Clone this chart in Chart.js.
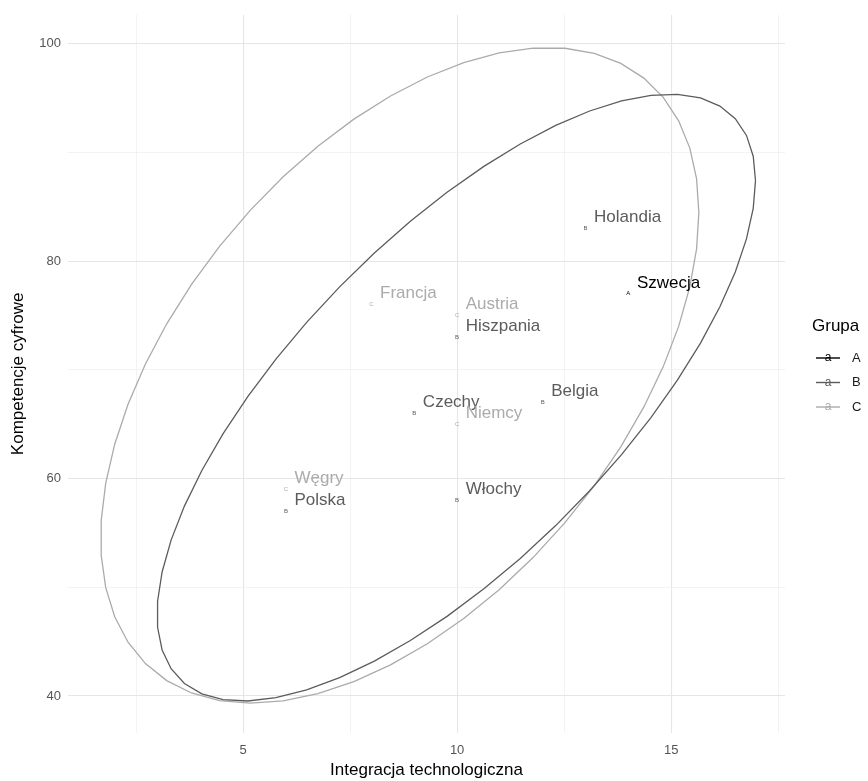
<!DOCTYPE html>
<html>
<head>
<meta charset="utf-8">
<script src="https://cdn.jsdelivr.net/npm/chart.js@4.4.0/dist/chart.umd.min.js"></script>
<style>
  html, body { margin: 0; padding: 0; background: #fff; }
  canvas { display: block; }
</style>
</head>
<body>
<canvas id="chart" width="868" height="781"></canvas>
<script>
// data
const countries = ['Szwecja', 'Holandia', 'Francja', 'Austria', 'Hiszpania', 'Czechy', 'Niemcy', 'Belgia', 'Węgry', 'Polska', 'Włochy'];
const groups = ['A', 'B', 'C', 'C', 'B', 'B', 'C', 'B', 'C', 'B', 'B'];
const integracja = [14, 13, 8, 10, 10, 9, 10, 12, 6, 6, 10];
const kompetencje = [77, 83, 76, 75, 73, 66, 65, 67, 59, 57, 58];

const groupNames = ['A', 'B', 'C'];
const groupColors = ['#000000', '#5c5c5c', '#ababab'];

const xTicks = [2.5, 5, 7.5, 10, 12.5, 15, 17.5];
const xLabels = [5, 10, 15];
const yTicks = [40, 50, 60, 70, 80, 90, 100];
const yLabels = [40, 60, 80, 100];

const FONT = '"Liberation Sans", Arial, sans-serif';

// robust t covariance, same idea as MASS::cov.trob (nu = 5)
function covTrob(pts, nu = 5, maxit = 25, tol = 0.01) {
  const n = pts.length;
  let loc = [pts.reduce((s, q) => s + q[0], 0) / n, pts.reduce((s, q) => s + q[1], 0) / n];
  let w = pts.map(() => 1);
  let X = [];
  for (let iter = 0; iter < maxit; iter++) {
    const w0 = w.slice();
    X = pts.map(q => [q[0] - loc[0], q[1] - loc[1]]);
    const sw = w.reduce((s, v) => s + v, 0);
    let a = 0, b = 0, c = 0;
    X.forEach((d, i) => {
      const f = w[i] / sw;
      a += f * d[0] * d[0]; b += f * d[0] * d[1]; c += f * d[1] * d[1];
    });
    const det = a * c - b * b;
    const Q = X.map(d => (c * d[0] * d[0] - 2 * b * d[0] * d[1] + a * d[1] * d[1]) / det);
    w = Q.map(q => (nu + 2) / (nu + q));
    const sw2 = w.reduce((s, v) => s + v, 0);
    loc = [pts.reduce((s, q, i) => s + w[i] * q[0], 0) / sw2, pts.reduce((s, q, i) => s + w[i] * q[1], 0) / sw2];
    if (w.every((v, i) => Math.abs(v - w0[i]) < tol)) break;
  }
  let a = 0, b = 0, c = 0;
  X.forEach((d, i) => { a += w[i] * d[0] * d[0]; b += w[i] * d[0] * d[1]; c += w[i] * d[1] * d[1]; });
  return { center: loc, cov: [a / n, b / n, c / n] };
}

// 95% ellipse like ggplot's stat_ellipse (type "t")
function ellipse(pts, level = 0.95, segments = 51) {
  const dfd = pts.length - 1;
  const radius = Math.sqrt(2 * (dfd / 2) * (Math.pow(1 - level, -2 / dfd) - 1));
  const { center, cov } = covTrob(pts);
  const r11 = Math.sqrt(cov[0]);
  const r12 = cov[1] / r11;
  const r22 = Math.sqrt(cov[2] - r12 * r12);
  const out = [];
  for (let k = 0; k <= segments; k++) {
    const t = k * 2 * Math.PI / segments;
    out.push({
      x: center[0] + radius * Math.cos(t) * r11,
      y: center[1] + radius * (Math.cos(t) * r12 + Math.sin(t) * r22)
    });
  }
  return out;
}

const datasets = [];
groupNames.forEach((g, gi) => {
  const idx = groups.map((v, i) => v === g ? i : -1).filter(i => i >= 0);
  if (idx.length > 2) {
    datasets.push({
      label: 'ellipse ' + g,
      data: ellipse(idx.map(i => [integracja[i], kompetencje[i]])),
      showLine: true,
      borderColor: groupColors[gi],
      borderWidth: 1.3,
      pointRadius: 0,
      fill: false,
      tension: 0
    });
  }
});
groupNames.forEach((g, gi) => {
  const idx = groups.map((v, i) => v === g ? i : -1).filter(i => i >= 0);
  datasets.push({
    label: g,
    data: idx.map(i => ({ x: integracja[i], y: kompetencje[i] })),
    names: idx.map(i => countries[i]),
    letter: g,
    textColor: groupColors[gi],
    pointRadius: 0,
    showLine: false
  });
});

const textPlugin = {
  id: 'textLabels',
  afterDatasetsDraw(chart) {
    const ctx = chart.ctx;
    const xs = chart.scales.x, ys = chart.scales.y;
    ctx.save();
    chart.data.datasets.forEach((ds, di) => {
      if (!ds.names) return;
      const meta = chart.getDatasetMeta(di);
      meta.data.forEach((el, i) => {
        ctx.fillStyle = ds.textColor;
        ctx.font = '6px ' + FONT;
        ctx.textAlign = 'center';
        ctx.textBaseline = 'middle';
        ctx.fillText(ds.letter, el.x, el.y);
        const lx = xs.getPixelForValue(ds.data[i].x + 0.2);
        const ly = ys.getPixelForValue(ds.data[i].y + 1);
        ctx.font = '17px ' + FONT;
        ctx.textAlign = 'left';
        ctx.fillText(ds.names[i], lx, ly);
      });
    });
    ctx.restore();
  }
};

const legendPlugin = {
  id: 'grupaLegend',
  afterDraw(chart) {
    const ctx = chart.ctx;
    ctx.save();
    ctx.fillStyle = '#000';
    ctx.font = '17px ' + FONT;
    ctx.textAlign = 'left';
    ctx.textBaseline = 'middle';
    ctx.fillText('Grupa', 812, 326);
    groupNames.forEach((g, i) => {
      const y = 358 + i * 24.5;
      ctx.strokeStyle = groupColors[i];
      ctx.lineWidth = 1.4;
      ctx.beginPath();
      ctx.moveTo(816, y);
      ctx.lineTo(840, y);
      ctx.stroke();
      ctx.fillStyle = groupColors[i];
      ctx.font = '12px ' + FONT;
      ctx.textAlign = 'center';
      ctx.fillText('a', 828, y);
      ctx.fillStyle = '#1a1a1a';
      ctx.font = '13px ' + FONT;
      ctx.textAlign = 'left';
      ctx.fillText(g, 852, y);
    });
    ctx.restore();
  }
};

new Chart(document.getElementById('chart'), {
  type: 'scatter',
  data: { datasets },
  options: {
    responsive: false,
    animation: false,
    layout: { padding: { left: 0, right: 83, top: 10, bottom: 0 } },
    plugins: { legend: { display: false }, tooltip: { enabled: false } },
    scales: {
      x: {
        type: 'linear',
        min: 0.91,
        max: 17.66,
        afterBuildTicks: s => { s.ticks = xTicks.map(v => ({ value: v })); },
        afterFit: s => { s.height = 48; },
        border: { display: false },
        grid: {
          drawTicks: false,
          color: c => xLabels.includes(c.tick.value) ? '#e6e6e6' : '#f0f0f0',
          lineWidth: c => xLabels.includes(c.tick.value) ? 1.1 : 0.8
        },
        ticks: {
          padding: 10,
          color: '#555555',
          font: { family: FONT, size: 13 },
          autoSkip: false,
          maxRotation: 0,
          callback: v => xLabels.includes(v) ? String(v) : ''
        },
        title: {
          display: true,
          text: 'Integracja technologiczna',
          color: '#000',
          font: { family: FONT, size: 17 },
          padding: { top: 0, bottom: 0 }
        }
      },
      y: {
        type: 'linear',
        min: 36.6,
        max: 102.65,
        afterBuildTicks: s => { s.ticks = yTicks.map(v => ({ value: v })); },
        afterFit: s => { s.width = 68; },
        border: { display: false },
        grid: {
          drawTicks: false,
          color: c => yLabels.includes(c.tick.value) ? '#e6e6e6' : '#f0f0f0',
          lineWidth: c => yLabels.includes(c.tick.value) ? 1.1 : 0.8
        },
        ticks: {
          padding: 7,
          color: '#555555',
          font: { family: FONT, size: 13 },
          autoSkip: false,
          callback: v => yLabels.includes(v) ? String(v) : ''
        },
        title: {
          display: true,
          text: 'Kompetencje cyfrowe',
          color: '#000',
          font: { family: FONT, size: 17 },
          padding: { top: 8, bottom: 0 }
        }
      }
    }
  },
  plugins: [textPlugin, legendPlugin]
});
</script>
</body>
</html>
